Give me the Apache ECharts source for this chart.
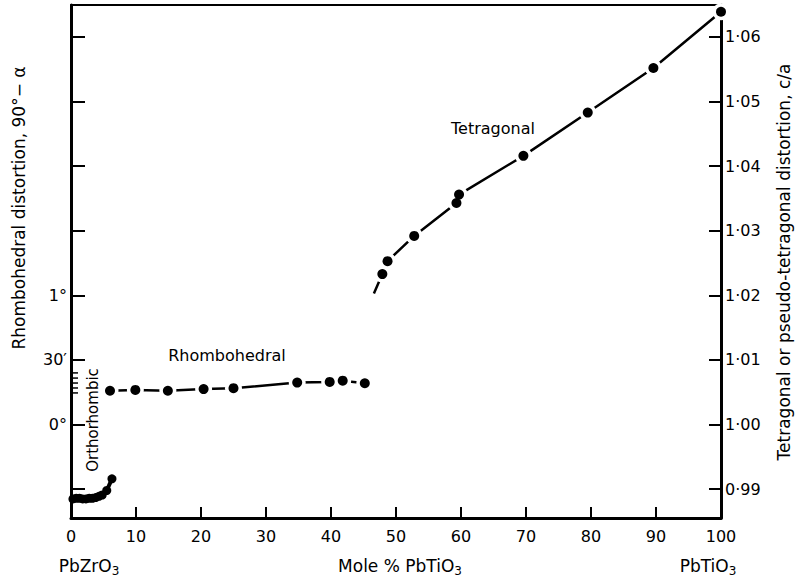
<!DOCTYPE html>
<html>
<head>
<meta charset="utf-8">
<script src="https://cdn.jsdelivr.net/npm/echarts@6/dist/echarts.min.js"></script>
<style>
html,body{margin:0;padding:0;background:#fff;}
#chart{width:795px;height:581px;}
</style>
</head>
<body>
<div id="chart"></div>
<script>
// ---- data ----
// x: mole % PbTiO3
const orthoX = [0.3, 0.8, 1.3, 1.8, 2.3, 2.8, 3.3, 3.8, 4.3, 4.8, 5.5, 6.3];
const orthoCA = [0.9885, 0.9886, 0.9886, 0.9885, 0.9885, 0.9886, 0.9886, 0.9887, 0.9889, 0.9891, 0.9898, 0.9916];

const rhomboX = [6.0, 9.9, 14.9, 20.4, 25.0, 34.8, 39.8, 41.8, 45.2];
const rhomboMin = [15.7, 16.1, 15.7, 16.5, 16.9, 19.5, 19.8, 20.4, 19.2]; // minutes of arc

const tetraX = [47.9, 48.7, 52.8, 59.3, 59.7, 69.6, 79.5, 89.6, 100];
const tetraCA = [1.0233, 1.0253, 1.0292, 1.0343, 1.0356, 1.0416, 1.0483, 1.0552, 1.0639];
const tetraCurveStart = [46.6, 1.0203];

const caTicks = [0.99, 1.00, 1.01, 1.02, 1.03, 1.04, 1.05, 1.06];
const degTicks = [-30, 0, 30, 60, 90, 120, 150, 180];
const degLabelValues = [0, 30, 60];
const degLabels = {0: '0°', 30: '30′', 60: '1°'};
const combTicks = [14.7, 17.0, 19.3, 21.6, 24.0]; // minutes

const caMin = 0.98554, caMax = 1.06495;
const FONT = '"DejaVu Sans", "Liberation Sans", sans-serif';

const chart = echarts.init(document.getElementById('chart'), null, {renderer: 'svg'});
const black = '#000';

function richFormula(main, sub, size) {
  return {
    text: '{a|' + main + '}{b|' + sub + '}',
    rich: {
      a: {fontSize: size, fontFamily: FONT, fill: black, verticalAlign: 'middle'},
      b: {fontSize: Math.round(size * 0.72), fontFamily: FONT, fill: black, padding: [9, 0, 0, 0], verticalAlign: 'middle'}
    },
    align: 'center', verticalAlign: 'middle', fill: black
  };
}

const option = {
  animation: false,
  backgroundColor: '#fff',
  grid: {left: 71, right: 74, top: 5, bottom: 63, containLabel: false},
  xAxis: [
    {type: 'value', position: 'bottom', min: 0, max: 100, interval: 10,
     axisLine: {show: true, onZero: false, lineStyle: {color: black, width: 3}},
     axisTick: {show: true, inside: true, length: 11, lineStyle: {color: black, width: 2}},
     axisLabel: {show: true, color: black, fontSize: 16, fontFamily: FONT, margin: 10},
     splitLine: {show: false}},
    {type: 'value', position: 'top', min: 0, max: 100,
     axisLine: {show: true, onZero: false, lineStyle: {color: black, width: 2}},
     axisTick: {show: false}, axisLabel: {show: false}, splitLine: {show: false}}
  ],
  yAxis: [
    {type: 'value', position: 'right', min: caMin, max: caMax,
     axisLine: {show: true, onZero: false, lineStyle: {color: black, width: 3}},
     axisTick: {show: true, inside: true, length: 12, customValues: caTicks, lineStyle: {color: black, width: 2}},
     axisLabel: {show: true, customValues: caTicks, color: black, fontSize: 16, fontFamily: FONT, margin: 4,
                 formatter: v => v.toFixed(2).replace('.', '·')},
     splitLine: {show: false}},
    {type: 'value', position: 'left', min: (caMin - 1) * 3000, max: (caMax - 1) * 3000,
     axisLine: {show: true, onZero: false, lineStyle: {color: black, width: 3}},
     axisTick: {show: true, inside: true, length: 14, customValues: degTicks, lineStyle: {color: black, width: 2}},
     axisLabel: {show: true, customValues: degLabelValues, color: black, fontSize: 16, fontFamily: FONT, margin: 4,
                 formatter: v => degLabels[Math.round(v)] || ''},
     splitLine: {show: false}}
  ],
  series: [
    {type: 'custom', name: 'comb', xAxisIndex: 0, yAxisIndex: 1, silent: true,
     data: combTicks.map(v => [0, v]),
     renderItem: function (params, api) {
       const p = api.coord([0, api.value(1)]);
       return {type: 'line', shape: {x1: p[0] + 1, y1: p[1], x2: p[0] + 7, y2: p[1]},
               style: {stroke: black, lineWidth: 1.5}};
     }, z: 5},
    {type: 'line', name: 'Orthorhombic', xAxisIndex: 0, yAxisIndex: 0, silent: true,
     data: orthoX.map((x, i) => [x, orthoCA[i]]),
     symbol: 'circle', symbolSize: 9, itemStyle: {color: black, opacity: 1},
     lineStyle: {color: black, width: 4}, z: 3},
    {type: 'line', name: 'RhomboLine', xAxisIndex: 0, yAxisIndex: 1, silent: true,
     data: rhomboX.map((x, i) => [x, rhomboMin[i]]),
     symbol: 'circle', symbolSize: 17, itemStyle: {color: '#fff', borderWidth: 0, opacity: 1},
     lineStyle: {color: black, width: 2.5}, z: 2},
    {type: 'scatter', name: 'Rhombohedral', xAxisIndex: 0, yAxisIndex: 1, silent: true,
     data: rhomboX.map((x, i) => [x, rhomboMin[i]]),
     symbol: 'circle', symbolSize: 10, itemStyle: {color: black, opacity: 1}, z: 4},
    {type: 'line', name: 'TetraLine', xAxisIndex: 0, yAxisIndex: 0, silent: true,
     data: [{value: tetraCurveStart, symbol: 'none'}].concat(tetraX.map((x, i) => [x, tetraCA[i]])),
     symbol: 'circle', symbolSize: 17, itemStyle: {color: '#fff', borderWidth: 0, opacity: 1},
     lineStyle: {color: black, width: 2.5}, z: 2},
    {type: 'scatter', name: 'Tetragonal', xAxisIndex: 0, yAxisIndex: 0, silent: true,
     data: tetraX.map((x, i) => [x, tetraCA[i]]),
     symbol: 'circle', symbolSize: 10, itemStyle: {color: black, opacity: 1}, z: 4}
  ],
  graphic: [
    {type: 'text', x: 227, y: 355, silent: true,
     style: {text: 'Rhombohedral', align: 'center', verticalAlign: 'middle', fontSize: 16, fontFamily: FONT, fill: black}},
    {type: 'text', x: 493, y: 128, silent: true,
     style: {text: 'Tetragonal', align: 'center', verticalAlign: 'middle', fontSize: 16, fontFamily: FONT, fill: black}},
    {type: 'text', x: 93, y: 420, rotation: Math.PI / 2, silent: true,
     style: {text: 'Orthorhombic', align: 'center', verticalAlign: 'middle', fontSize: 15, fontFamily: FONT, fill: black}},
    {type: 'text', x: 19, y: 208, rotation: Math.PI / 2, silent: true,
     style: {text: 'Rhombohedral distortion, 90°− α', align: 'center', verticalAlign: 'middle', fontSize: 17, fontFamily: FONT, fill: black}},
    {type: 'text', x: 784, y: 262, rotation: Math.PI / 2, silent: true,
     style: {text: 'Tetragonal or pseudo-tetragonal distortion, c/a', align: 'center', verticalAlign: 'middle', fontSize: 17, fontFamily: FONT, fill: black}},
    {type: 'text', x: 89, y: 566, silent: true, style: richFormula('PbZrO', '3', 17)},
    {type: 'text', x: 400, y: 566, silent: true, style: richFormula('Mole % PbTiO', '3', 17)},
    {type: 'text', x: 708, y: 566, silent: true, style: richFormula('PbTiO', '3', 17)}
  ]
};
chart.setOption(option);
</script>
</body>
</html>
